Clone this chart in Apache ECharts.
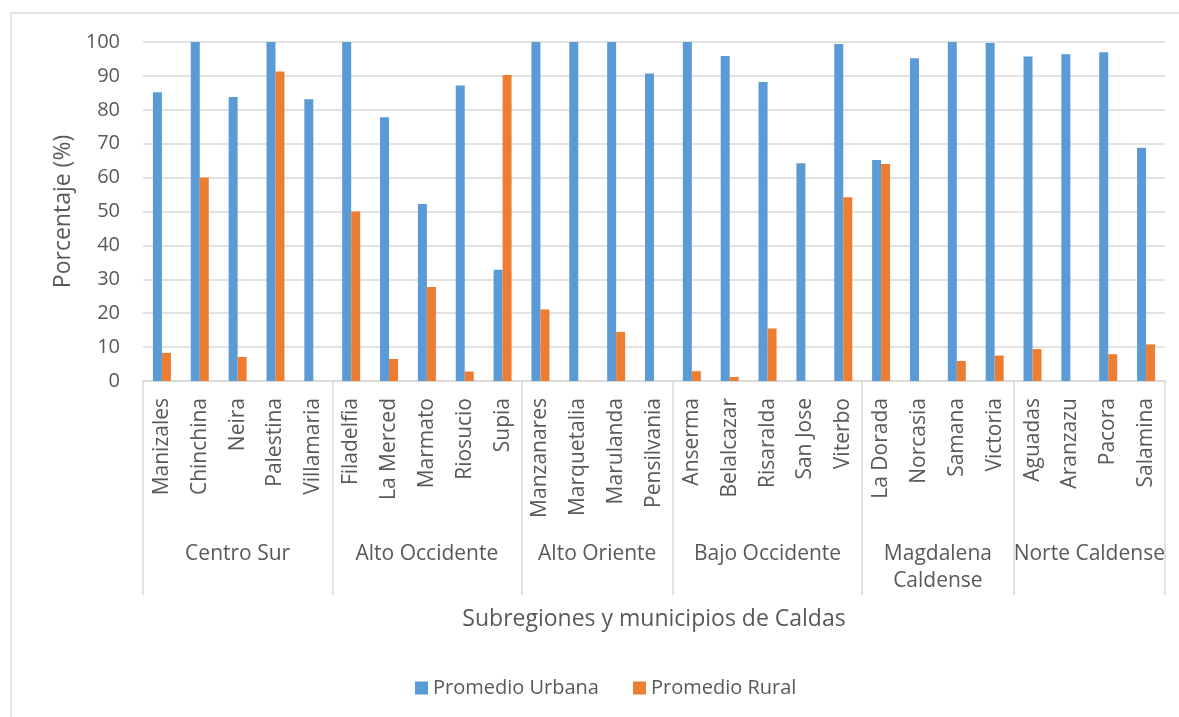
<!DOCTYPE html>
<html>
<head>
<meta charset="utf-8">
<script src="https://cdn.jsdelivr.net/npm/echarts@6/dist/echarts.min.js"></script>
<style>
  html, body { margin: 0; padding: 0; background: #ffffff; }
  #chart { width: 1179px; height: 717px; }
</style>
</head>
<body>
<div id="chart"></div>
<script>
// Municipios de Caldas, ordered by subregion
const municipios = [
  'Manizales', 'Chinchina', 'Neira', 'Palestina', 'Villamaria',
  'Filadelfia', 'La Merced', 'Marmato', 'Riosucio', 'Supia',
  'Manzanares', 'Marquetalia', 'Marulanda', 'Pensilvania',
  'Anserma', 'Belalcazar', 'Risaralda', 'San Jose', 'Viterbo',
  'La Dorada', 'Norcasia', 'Samana', 'Victoria',
  'Aguadas', 'Aranzazu', 'Pacora', 'Salamina'
];

// Subregions and the number of municipios in each
const subregiones = ['Centro Sur', 'Alto Occidente', 'Alto Oriente', 'Bajo Occidente', 'Magdalena\nCaldense', 'Norte Caldense'];
const municipiosPorSubregion = [5, 5, 4, 5, 4, 4];

// Average coverage (%)
const promedioUrbana = [
  85.2, 100, 83.8, 100, 83.1,
  100, 77.8, 52.2, 87.2, 32.8,
  100, 100, 100, 90.7,
  100, 95.9, 88.2, 64.2, 99.4,
  65.2, 95.2, 100, 99.7,
  95.7, 96.4, 97.0, 68.8
];
const promedioRural = [
  8.3, 60.0, 7.1, 91.3, 0,
  50.0, 6.5, 27.7, 2.8, 90.3,
  21.1, 0, 14.5, 0,
  2.9, 1.2, 15.5, 0, 54.2,
  64.0, 0, 5.9, 7.5,
  9.4, 0, 7.9, 10.8
];

const yTicks = { min: 0, max: 100, interval: 10 };

// Subregion boundaries and label centres on a 0..N value scale aligned with the categories
const limites = [0];
municipiosPorSubregion.forEach(n => limites.push(limites[limites.length - 1] + n));
const centros = subregiones.map((_, i) => (limites[i] + limites[i + 1]) / 2);

const textColor = '#595959';
const lineColor = '#d9d9d9';
const fontFamily = '"Open Sans", "Noto Sans", sans-serif';

const chart = echarts.init(document.getElementById('chart'), null, { renderer: 'canvas' });

chart.setOption({
  backgroundColor: '#ffffff',
  textStyle: { fontFamily: fontFamily, color: textColor },
  animation: false,
  graphic: [{
    type: 'rect',
    shape: { x: 11, y: 13, width: 1200, height: 800 },
    style: { fill: 'none', stroke: lineColor, lineWidth: 1.5 },
    silent: true
  }],
  grid: { left: 143, right: 14, top: 42, bottom: 336, containLabel: false },
  legend: {
    data: ['Promedio Urbana', 'Promedio Rural'],
    left: 410,
    top: 673,
    icon: 'rect',
    itemWidth: 13,
    itemHeight: 13,
    itemGap: 34,
    textStyle: { fontSize: 20, color: textColor, fontFamily: fontFamily }
  },
  xAxis: [
    {
      type: 'category',
      data: municipios,
      position: 'bottom',
      axisLine: { show: true, lineStyle: { color: lineColor, width: 1.5 } },
      axisTick: { show: false },
      axisLabel: {
        interval: 0,
        rotate: 90,
        margin: 17,
        fontSize: 21,
        color: textColor,
        fontFamily: fontFamily
      },
      splitLine: { show: false }
    },
    {
      type: 'value',
      min: 0,
      max: municipios.length,
      position: 'bottom',
      axisLine: { show: false },
      splitLine: { show: false },
      axisTick: {
        show: true,
        customValues: limites,
        length: 214,
        lineStyle: { color: lineColor, width: 1.5 }
      },
      axisLabel: {
        customValues: centros,
        margin: 160,
        fontSize: 21,
        lineHeight: 27,
        color: textColor,
        fontFamily: fontFamily,
        verticalAlign: 'top',
        formatter: function (v) {
          const i = centros.findIndex(c => Math.abs(c - v) < 1e-6);
          return i >= 0 ? subregiones[i] : '';
        }
      },
      name: 'Subregiones y municipios de Caldas',
      nameLocation: 'middle',
      nameGap: 227,
      nameTextStyle: { fontSize: 23, color: textColor, fontFamily: fontFamily }
    }
  ],
  yAxis: {
    type: 'value',
    min: yTicks.min,
    max: yTicks.max,
    interval: yTicks.interval,
    axisLine: { show: false },
    axisTick: { show: false },
    axisLabel: { fontSize: 20, color: textColor, margin: 23, fontFamily: fontFamily },
    splitLine: { lineStyle: { color: lineColor, width: 1.5 } },
    name: 'Porcentaje (%)',
    nameLocation: 'middle',
    nameRotate: 90,
    nameGap: 67,
    nameTextStyle: { fontSize: 23, color: textColor, fontFamily: fontFamily }
  },
  series: [
    {
      name: 'Promedio Urbana',
      type: 'bar',
      xAxisIndex: 0,
      data: promedioUrbana,
      barWidth: 9,
      barGap: '0%',
      itemStyle: { color: '#5b9bd5' }
    },
    {
      name: 'Promedio Rural',
      type: 'bar',
      xAxisIndex: 0,
      data: promedioRural,
      barWidth: 9,
      barGap: '0%',
      itemStyle: { color: '#ed7d31' }
    }
  ]
});
</script>
</body>
</html>
